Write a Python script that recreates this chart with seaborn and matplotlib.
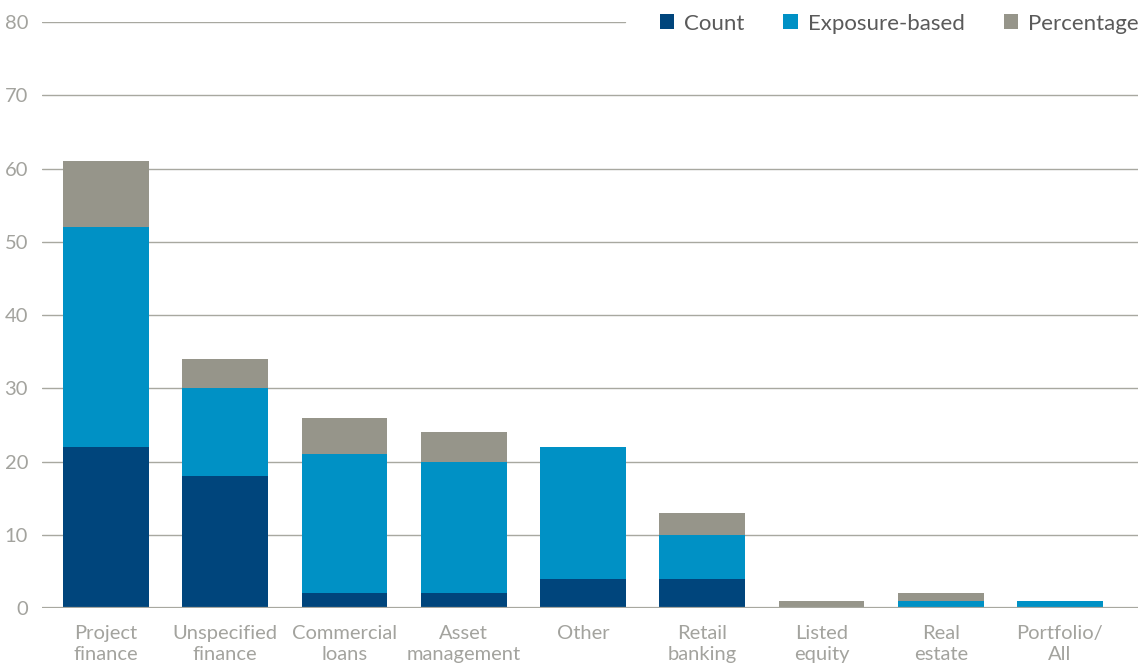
import matplotlib
matplotlib.use("Agg")
import matplotlib.pyplot as plt
import seaborn as sns
import pandas as pd
import numpy as np
from matplotlib.patches import Patch

categories = ["Project\nfinance", "Unspecified\nfinance", "Commercial\nloans", "Asset\nmanagement",
              "Other", "Retail\nbanking", "Listed\nequity", "Real\nestate", "Portfolio/\nAll"]
count = [22, 18, 2, 2, 4, 4, 0, 0, 0]
exposure = [30, 12, 19, 18, 18, 6, 0, 1, 1]
percentage = [9, 4, 5, 4, 0, 3, 1, 1, 0]
series_names = ["Count", "Exposure-based", "Percentage"]
colors = ["#00457C", "#0091C5", "#96958A"]
y_ticks = [0, 10, 20, 30, 40, 50, 60, 70, 80]

sns.set_theme(style="white")
plt.rcParams["font.family"] = ["Lato", "DejaVu Sans"]

df = pd.DataFrame({"category": categories, "Count": count,
                   "Exposure-based": exposure, "Percentage": percentage})

fig = plt.figure(figsize=(11.46, 6.68), dpi=100)
ax = fig.add_axes([0.0366, 0.0898, 0.9564, 0.8772])

grid_color = "#A8A8A0"
for t in y_ticks[1:]:
    xmax = 0.532 if t == 80 else 1.0
    ax.axhline(t, xmin=0, xmax=xmax, color=grid_color, lw=1.0, zorder=0)

bottom = np.zeros(len(categories))
for name, col in zip(series_names, colors):
    vals = df[name].to_numpy(dtype=float)
    sns.barplot(x=df["category"], y=vals, bottom=bottom, color=col, width=0.72,
                ax=ax, zorder=2, linewidth=0, saturation=1)
    bottom = bottom + vals

ax.axhline(0, color=grid_color, lw=1.6, zorder=3)

label_color = "#A3A39E"
ax.set_ylim(0, 80)
ax.set_xlim(-0.537, 8.654)
ax.set_yticks(y_ticks)
ax.set_yticklabels([str(t) for t in y_ticks], color=label_color, fontsize=14.5)
ax.set_xticks(range(len(categories)))
ax.set_xticklabels(categories, color=label_color, fontsize=14.5, linespacing=1.32)
ax.tick_params(axis="y", length=0, pad=10)
ax.tick_params(axis="x", length=0, pad=12)
ax.set_xlabel("")
ax.set_ylabel("")
for s in ax.spines.values():
    s.set_visible(False)

handles = [Patch(facecolor=c, edgecolor="none", label=n) for n, c in zip(series_names, colors)]
fig.legend(handles=handles, loc="upper right", bbox_to_anchor=(1.011, 1.0095), ncol=3,
           frameon=False, fontsize=16, handlelength=0.65, handleheight=0.65,
           handletextpad=0.45, columnspacing=1.75, labelcolor="#5A5A5A")

fig.savefig("out.png", dpi=100)
